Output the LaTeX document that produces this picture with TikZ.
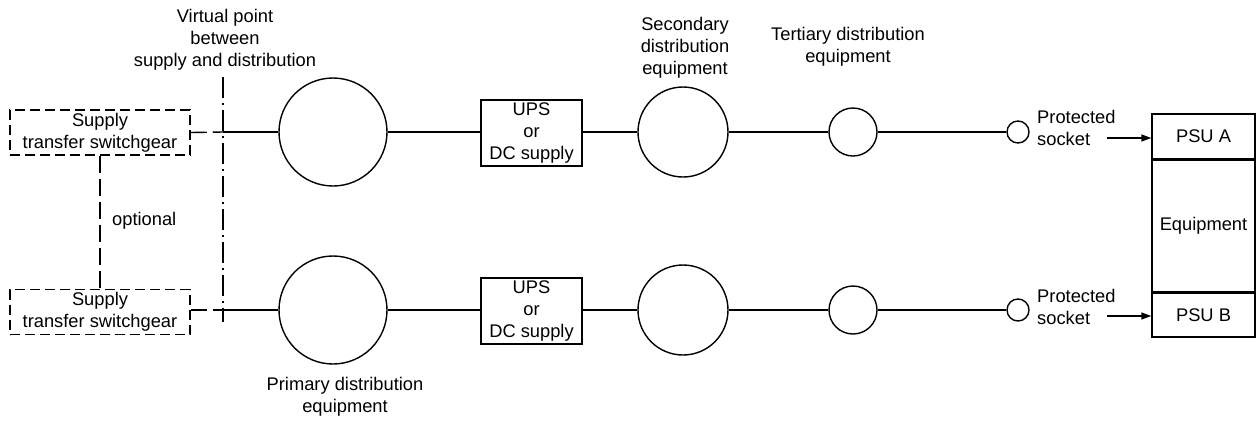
\documentclass[tikz,border=0pt]{standalone}
\usepackage{fontspec}
\setmainfont{Liberation Sans}
\usetikzlibrary{arrows.meta}
\begin{document}
\begin{tikzpicture}[x=1pt,y=-1pt,
  every node/.style={font=\fontsize{18.3}{22}\selectfont, inner sep=0pt},
  ln/.style={line width=1.4pt},
  dbox/.style={draw, line width=1.5pt, dash pattern=on 10pt off 5pt, minimum width=180pt, minimum height=45pt, align=center},
  sbox/.style={draw, line width=1.4pt, minimum width=101pt, minimum height=66pt, align=center},
  circ/.style={draw, circle, line width=1.4pt},
  ebox/.style={draw, line width=1.4pt, minimum width=103pt, align=center},
  lbl/.style={align=center},
  arr/.style={line width=1.4pt, -{Triangle[length=10pt,width=7pt]}}
]
\useasboundingbox (0,0) rectangle (1257,421);
% supply boxes
\node[dbox] (s1) at (100,132.5) {Supply\\transfer switchgear};
\node[dbox] (s2) at (100,312) {Supply\\transfer switchgear};
\draw[ln, dash pattern=on 17pt off 6pt] (s1.south) -- (s2.north);
\node[anchor=west] (opt) at (112,221) {optional};
% virtual point
\coordinate (vt) at (223,77);
\coordinate (vb) at (223,322);
\draw[ln, dash pattern=on 21pt off 5pt on 2pt off 5pt] (vt) -- (vb);
\coordinate (v1) at (223,132);
\coordinate (v2) at (223,310);
\node[lbl] (vlab) at (225,40) {Virtual point\\between\\supply and distribution};
% primary
\node[circ, minimum size=108pt] (p1) at (333,132) {};
\node[circ, minimum size=108pt] (p2) at (333,310) {};
\node[lbl] (plab) at (345,397) {Primary distribution\\equipment};
% UPS
\node[sbox] (u1) at (531.5,133) {UPS\\or\\DC supply};
\node[sbox] (u2) at (531.5,311) {UPS\\or\\DC supply};
% secondary
\node[circ, minimum size=90pt] (c1) at (683,132) {};
\node[circ, minimum size=90pt] (c2) at (683,310) {};
\node[lbl] (clab) at (685,48) {Secondary\\distribution\\equipment};
% tertiary
\node[circ, minimum size=48pt] (t1) at (853,132) {};
\node[circ, minimum size=48pt] (t2) at (853,310) {};
\node[lbl] (tlab) at (848,47) {Tertiary distribution\\equipment};
% sockets
\node[circ, minimum size=22pt] (k1) at (1018,132) {};
\node[circ, minimum size=22pt] (k2) at (1018,310) {};
\node[anchor=west, align=left] (kl1) at (1037,128) {Protected\\socket};
\node[anchor=west, align=left] (kl2) at (1037,307) {Protected\\socket};
% equipment
\node[ebox, minimum height=45pt] (pa) at (1203.5,136.5) {PSU A};
\node[ebox, minimum height=131pt, anchor=north] (eq) at (pa.south) {Equipment};
\node[ebox, minimum height=44pt, anchor=north] (pb) at (eq.south) {PSU B};
\coordinate (a1) at (1107,138);
\coordinate (a2) at (1107,316);
\draw[arr] (a1) -- (a1 -| pa.west);
\draw[arr] (a2) -- (a2 -| pb.west);
% connectors
\draw[ln, dash pattern=on 16pt off 6pt] (s1.east) -- (v1);
\draw[ln, dash pattern=on 16pt off 6pt] (s2.east |- v2) -- (v2);
\draw[ln] (v1) -- (p1.west);
\draw[ln] (v2) -- (p2.west);
\draw[ln] (p1.east) -- (u1.west |- p1.east);
\draw[ln] (p2.east) -- (u2.west |- p2.east);
\draw[ln] (u1.east |- c1.west) -- (c1.west);
\draw[ln] (u2.east |- c2.west) -- (c2.west);
\draw[ln] (c1.east) -- (t1.west);
\draw[ln] (c2.east) -- (t2.west);
\draw[ln] (t1.east) -- (k1.west);
\draw[ln] (t2.east) -- (k2.west);
\end{tikzpicture}
\end{document}
